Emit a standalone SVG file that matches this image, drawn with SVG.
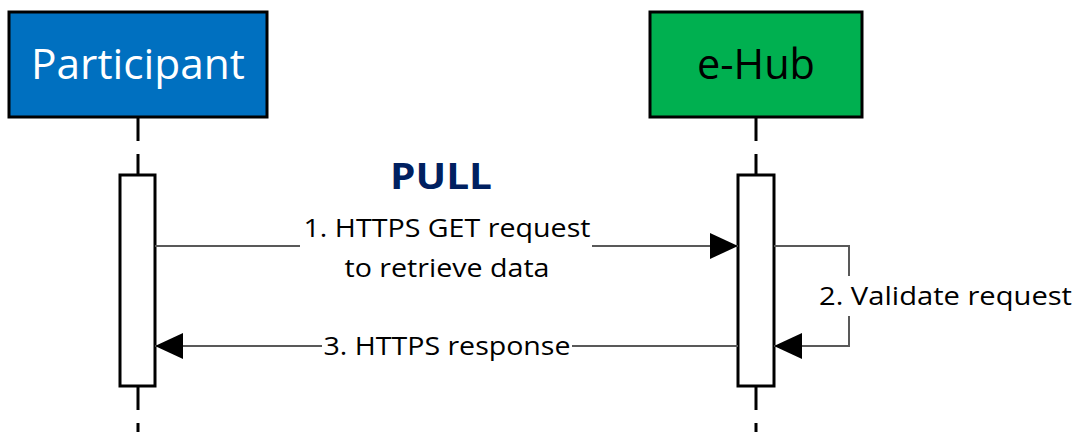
<svg xmlns="http://www.w3.org/2000/svg" width="1075" height="432" viewBox="0 0 1075 432">
<defs>
<style>
.box{stroke:#000;stroke-width:3}
.lbl{font-family:"Open Sans","Liberation Sans",sans-serif}
.msg{font-family:"Open Sans","Liberation Sans",sans-serif;font-size:25px;fill:#000}
.life{stroke:#000;stroke-width:3;stroke-dasharray:23 13;fill:none}
.act{fill:#fff;stroke:#000;stroke-width:3}
.conn{stroke:#595959;stroke-width:2;fill:none}
</style>
<marker id="ah" viewBox="0 0 28 26" refX="28" refY="13" markerWidth="28" markerHeight="26" markerUnits="userSpaceOnUse" orient="auto">
<path d="M0,0 L28,13 L0,26 Z" fill="#000"/>
</marker>
</defs>
<rect width="1075" height="432" fill="#fff"/>
<g id="participant">
<rect class="box" x="9" y="12" width="258" height="105" fill="#0070C0"/>
<text class="lbl" x="138" y="79" font-size="42" fill="#fff" text-anchor="middle" textLength="214" lengthAdjust="spacingAndGlyphs">Participant</text>
<line class="life" x1="138" y1="118" x2="138" y2="175"/>
<line class="life" x1="138" y1="387" x2="138" y2="432" stroke-dasharray="13 14"/>
<rect class="act" x="120" y="175" width="35" height="211"/>
</g>
<g id="ehub">
<rect class="box" x="650" y="12" width="212" height="105" fill="#00B050"/>
<text class="lbl" x="756" y="79" font-size="42" fill="#000" text-anchor="middle" textLength="118" lengthAdjust="spacingAndGlyphs">e-Hub</text>
<line class="life" x1="756" y1="118" x2="756" y2="175"/>
<line class="life" x1="756" y1="387" x2="756" y2="432" stroke-dasharray="13 14"/>
<rect class="act" x="738" y="175" width="36" height="211"/>
</g>
<g id="title">
<text class="lbl" x="441" y="189" font-size="36" font-weight="bold" fill="#002060" text-anchor="middle" textLength="102" lengthAdjust="spacingAndGlyphs">PULL</text>
</g>
<g id="connectors">
<line class="conn" x1="155" y1="246" x2="300" y2="246"/>
<line class="conn" x1="592" y1="246" x2="738" y2="246" marker-end="url(#ah)"/>
<polyline class="conn" points="774,246 849,246 849,276"/>
<polyline class="conn" points="849,316 849,346 774,346" marker-end="url(#ah)"/>
<line class="conn" x1="738" y1="346" x2="572" y2="346"/>
<line class="conn" x1="322" y1="346" x2="155" y2="346" marker-end="url(#ah)"/>
</g>
<g id="labels">
<text class="msg" x="447" y="237" text-anchor="middle" textLength="287" lengthAdjust="spacingAndGlyphs">1. HTTPS GET request</text>
<text class="msg" x="447" y="277" text-anchor="middle" textLength="205" lengthAdjust="spacingAndGlyphs">to retrieve data</text>
<text class="msg" x="819" y="305" textLength="253" lengthAdjust="spacingAndGlyphs">2. Validate request</text>
<text class="msg" x="447" y="355" text-anchor="middle" textLength="247" lengthAdjust="spacingAndGlyphs">3. HTTPS response</text>
</g>
</svg>
